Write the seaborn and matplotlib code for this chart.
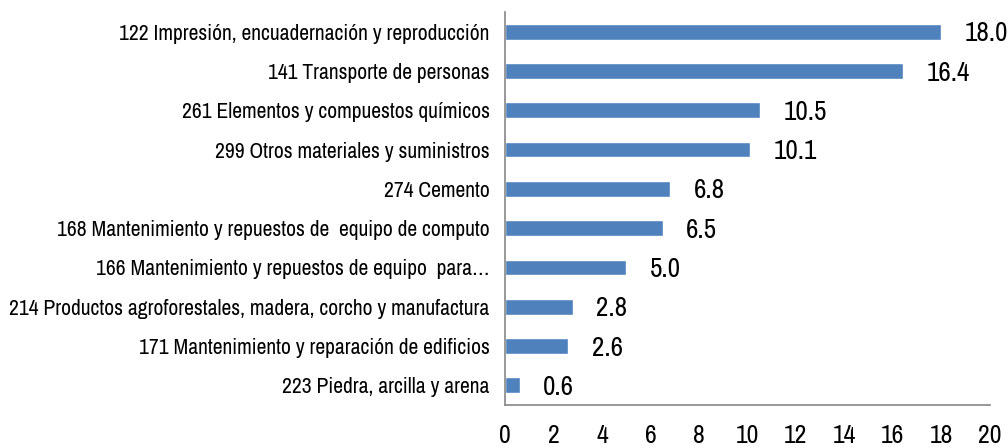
import matplotlib
matplotlib.use("Agg")
import matplotlib.pyplot as plt
import seaborn as sns
import pandas as pd
from matplotlib.ticker import FixedLocator

# Chart data
categories = [
    "122 Impresión, encuadernación y reproducción",
    "141 Transporte de personas",
    "261 Elementos y compuestos químicos",
    "299 Otros materiales y suministros",
    "274 Cemento",
    "168 Mantenimiento y repuestos de  equipo de computo",
    "166 Mantenimiento y repuestos de equipo  para…",
    "214 Productos agroforestales, madera, corcho y manufactura",
    "171 Mantenimiento y reparación de edificios",
    "223 Piedra, arcilla y arena",
]
values = [18.0, 16.4, 10.5, 10.1, 6.8, 6.5, 5.0, 2.8, 2.6, 0.6]
x_ticks = [0, 2, 4, 6, 8, 10, 12, 14, 16, 18, 20]

df = pd.DataFrame({"Categoria": categories, "Valor": values})

sns.set_style("white")
plt.rcParams["font.family"] = ["Archivo Narrow", "Liberation Sans", "DejaVu Sans"]

fig = plt.figure(figsize=(10.08, 4.48), dpi=100)
ax = fig.add_axes([0.501, 0.096, 0.481, 0.877])

sns.barplot(data=df, x="Valor", y="Categoria", color="#4F81BD",
            saturation=1, width=0.4, ax=ax)

# value labels to the right of each bar
for i, v in enumerate(values):
    ax.annotate(f"{v:.1f}", xy=(v, i), xytext=(17, -1.5), textcoords="offset points",
                ha="left", va="center", fontsize=19.5, color="black")

ax.set_xlim(0, 20)
ax.set_ylim(len(categories) - 0.5, -0.5)
ax.set_xticks(x_ticks)
ax.set_xlabel("")
ax.set_ylabel("")

# y ticks at category boundaries, labels at centres
ax.yaxis.set_minor_locator(FixedLocator([i - 0.5 for i in range(len(categories) + 1)]))
ax.tick_params(axis="y", which="major", length=0, labelsize=15.5, labelcolor="black", pad=11)
ax.tick_params(axis="y", which="minor", length=4, width=1.2, color="#868686", direction="out")
ax.tick_params(axis="x", which="major", length=6, width=1.2, color="#868686",
               direction="out", labelsize=18.5, labelcolor="black", pad=8)

sns.despine(ax=ax)
for side in ["left", "bottom"]:
    ax.spines[side].set_color("#868686")
    ax.spines[side].set_linewidth(1.2)

fig.savefig("out.png", dpi=100)
